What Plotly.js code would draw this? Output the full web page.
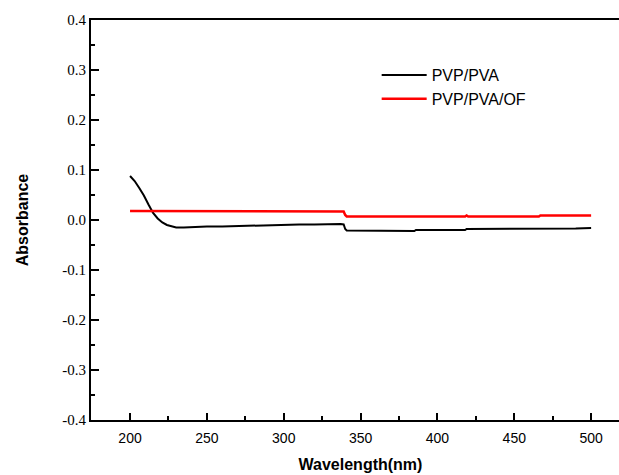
<!DOCTYPE html>
<html>
<head>
<meta charset="utf-8">
<script src="https://cdn.plot.ly/plotly-3.0.1.min.js"></script>
<style>
html,body{margin:0;padding:0;overflow:hidden;background:#fff;width:619px;height:475px;}
#chart{width:650px;height:475px;}
</style>
</head>
<body>
<div id="chart"></div>
<script>
// PVP/PVA (black)
const wlPVA = [200,203,206,209,212,215,218,221,224,227,230,235,240,250,260,270,280,290,300,310,320,330,337,339,340,341,350,360,385,386,418,419,480,490,500];
const absPVA = [0.088,0.078,0.064,0.049,0.031,0.014,0.003,-0.005,-0.010,-0.013,-0.015,-0.015,-0.014,-0.013,-0.013,-0.012,-0.011,-0.010,-0.010,-0.009,-0.009,-0.008,-0.008,-0.009,-0.018,-0.021,-0.021,-0.022,-0.022,-0.020,-0.020,-0.018,-0.018,-0.017,-0.016];
// PVP/PVA/OF (red)
const wlOF = [200,202,204,206,208,215,250,300,339,340,341,400,418,419,420,466,467,500];
const absOF = [0.018,0.018,0.017,0.017,0.018,0.018,0.018,0.018,0.017,0.010,0.007,0.007,0.007,0.009,0.007,0.007,0.009,0.009];
const names = ["PVP/PVA","PVP/PVA/OF"];
const yTickVals = [-0.4,-0.3,-0.2,-0.1,0,0.1,0.2,0.3,0.4];
const yTickText = ["-0.4","-0.3","-0.2","-0.1","0.0","0.1","0.2","0.3","0.4"];
const xTickVals = [200,250,300,350,400,450,500];
const xTickText = ["200","250","300","350","400","450","500"];
const xTitle = "Wavelength(nm)";
const yTitle = "Absorbance";

const traces = [
  {x: wlPVA, y: absPVA, name: names[0], type: 'scatter', mode: 'lines', line: {color: '#000000', width: 2}},
  {x: wlOF, y: absOF, name: names[1], type: 'scatter', mode: 'lines', line: {color: '#ff0000', width: 2.5}}
];

const layout = {
  width: 650, height: 475,
  margin: {l: 91, r: 20, t: 20, b: 55},
  paper_bgcolor: '#fff', plot_bgcolor: '#fff',
  showlegend: true,
  legend: {x: 0.53, y: 0.905, xanchor: 'left', yanchor: 'top', bgcolor: 'rgba(0,0,0,0)',
           font: {family: 'Liberation Sans, Arial, sans-serif', size: 16, color: '#000'},
           itemwidth: 45, tracegroupgap: 0},
  xaxis: {
    range: [174.6, 525.3], showgrid: false, zeroline: false,
    showline: true, linecolor: '#000', linewidth: 2, mirror: true,
    ticks: 'inside', ticklen: 7, tickwidth: 2, tickcolor: '#000',
    tickmode: 'array', tickvals: xTickVals, ticktext: xTickText,
    minor: {ticks: 'inside', ticklen: 4, tickwidth: 2, tickcolor: '#000', dtick: 25, tick0: 200, showgrid: false},
    ticklabelstandoff: 4,
    tickfont: {family: 'Liberation Sans, Arial, sans-serif', size: 14, color: '#000'},
    title: {text: '<b>' + xTitle + '</b>', font: {family: 'Liberation Sans, Arial, sans-serif', size: 16, color: '#000'}, standoff: 14}
  },
  yaxis: {
    range: [-0.4, 0.4], showgrid: false, zeroline: false,
    showline: true, linecolor: '#000', linewidth: 2, mirror: true,
    ticks: 'inside', ticklen: 8, tickwidth: 2, tickcolor: '#000',
    tickmode: 'array', tickvals: yTickVals, ticktext: yTickText,
    minor: {ticks: 'inside', ticklen: 4, tickwidth: 2, tickcolor: '#000', dtick: 0.05, tick0: 0, showgrid: false},
    ticklabelstandoff: 0,
    tickfont: {family: 'Liberation Serif, Times New Roman, serif', size: 15, color: '#000'},
    title: {text: '<b>' + yTitle + '</b>', font: {family: 'Liberation Sans, Arial, sans-serif', size: 16, color: '#000'}, standoff: 30}
  }
};

Plotly.newPlot('chart', traces, layout, {displayModeBar: false, staticPlot: true});
</script>
</body>
</html>
